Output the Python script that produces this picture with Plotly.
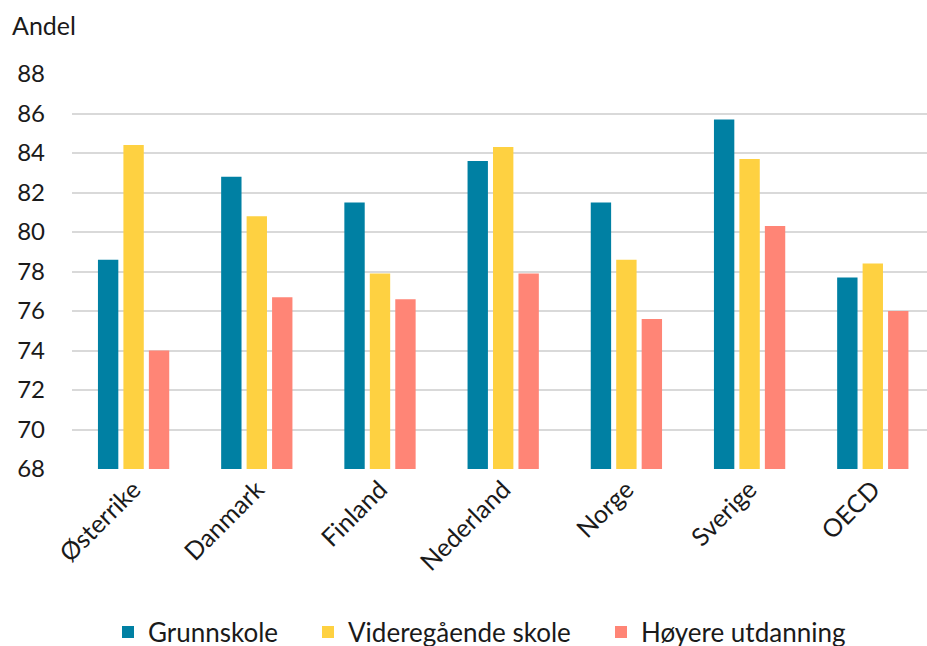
import plotly.graph_objects as go

# Data
countries = ["Østerrike", "Danmark", "Finland", "Nederland", "Norge", "Sverige", "OECD"]
grunnskole = [78.6, 82.8, 81.5, 83.6, 81.5, 85.7, 77.7]
videregaende = [84.4, 80.8, 77.9, 84.3, 78.6, 83.7, 78.4]
hoyere = [74.0, 76.7, 76.6, 77.9, 75.6, 80.3, 76.0]

series_names = ["Grunnskole", "Videregående skole", "Høyere utdanning"]
colors = ["#0080A3", "#FED141", "#FF8576"]
font_family = "Lato, 'Noto Sans', sans-serif"

# one legend per series so the entries can be spaced like the original
legend_ids = ["legend", "legend2", "legend3"]
legend_x = [108, 308, 601]

fig = go.Figure()
for name, vals, col, lg in zip(series_names, [grunnskole, videregaende, hoyere], colors, legend_ids):
    fig.add_trace(go.Bar(
        x=countries,
        y=vals,
        name=name,
        legend=lg,
        marker=dict(color=col, line=dict(width=0)),
    ))

legend_style = dict(
    orientation="h",
    xref="container",
    yref="container",
    xanchor="left",
    y=(646 - 632) / 646,
    yanchor="middle",
    font=dict(size=26),
    itemwidth=30,
    bgcolor="rgba(0,0,0,0)",
)

fig.update_layout(
    width=927,
    height=646,
    barmode="group",
    bargap=0.38,
    bargroupgap=0.2,
    plot_bgcolor="white",
    paper_bgcolor="white",
    font=dict(family=font_family, size=25, color="#1a1a1a"),
    margin=dict(l=72, r=0, t=74, b=177),
    showlegend=True,
    legend=dict(legend_style, x=legend_x[0] / 927),
    legend2=dict(legend_style, x=legend_x[1] / 927),
    legend3=dict(legend_style, x=legend_x[2] / 927),
    annotations=[dict(
        text="Andel",
        xref="paper", yref="paper",
        x=-62 / 855, y=(469 - 25) / 395,
        xanchor="left", yanchor="middle",
        showarrow=False,
        font=dict(size=25),
    )],
)
fig.update_xaxes(
    tickangle=-45,
    tickfont=dict(size=25),
    range=[-0.5, 6.44],
    showgrid=False,
    showline=False,
    ticks="",
    automargin=False,
)
fig.update_yaxes(
    range=[68, 88],
    dtick=2,
    showgrid=True,
    gridcolor="#d9d9d9",
    gridwidth=2,
    zeroline=False,
    showline=False,
    ticks="",
    tickfont=dict(size=24),
    ticklabelstandoff=26,
    automargin=False,
)

fig.write_html(
    "out.html",
    config={"displayModeBar": False},
    post_script="document.body.style.margin='0';document.body.style.overflow='hidden';",
)
